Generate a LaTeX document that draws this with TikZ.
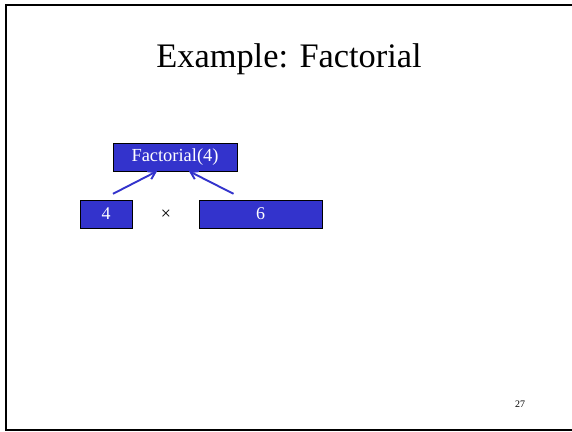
\documentclass[tikz,border=0pt]{standalone}
\usepackage{fontspec}
\setmainfont{Liberation Serif}
\usetikzlibrary{arrows.meta,positioning}
\definecolor{boxblue}{RGB}{51,51,204}

\begin{document}
\begin{tikzpicture}[
    x=1bp, y=-1bp,
    box/.style={draw=black, fill=boxblue, text=white, minimum height=28bp, inner sep=0pt, font=\fontsize{18}{18}\selectfont},
    arrow/.style={-{Straight Barb[length=7bp, width=9bp]}, boxblue, line width=1.9bp},
]
    \useasboundingbox (0,0) rectangle (572,431);
    % slide frame
    \draw[line width=2.2bp] (572,5) -- (6,5) -- (6,430) -- (572,430);

    \node[font=\fontsize{34.5}{34.5}\selectfont] (title) at (289,59) {Example: Factorial};

    \node[box, minimum width=124bp, font=\fontsize{18.5}{18.5}\selectfont] (fact) at (175,157) {\raisebox{-1bp}{Factorial(4)}};
    \node[box, minimum width=52bp] (four) at (106,214) {\raisebox{-1bp}{4}};
    \node[font=\fontsize{18}{18}\selectfont] (times) at (166,215) {×};
    \node[box, minimum width=123bp] (six) at (260.5,214) {\raisebox{-1bp}{6}};

    \coordinate (ltail) at ([xshift=7bp, yshift=6bp]four.north);
    \coordinate (rtail) at ([xshift=-27bp, yshift=6bp]six.north);
    \draw[arrow] (ltail) -- ([xshift=-18bp]fact.south);
    \draw[arrow] (rtail) -- ([xshift=14bp]fact.south);

    \node[font=\fontsize{10}{10}\selectfont] (page) at (520,404) {27};
\end{tikzpicture}
\end{document}
